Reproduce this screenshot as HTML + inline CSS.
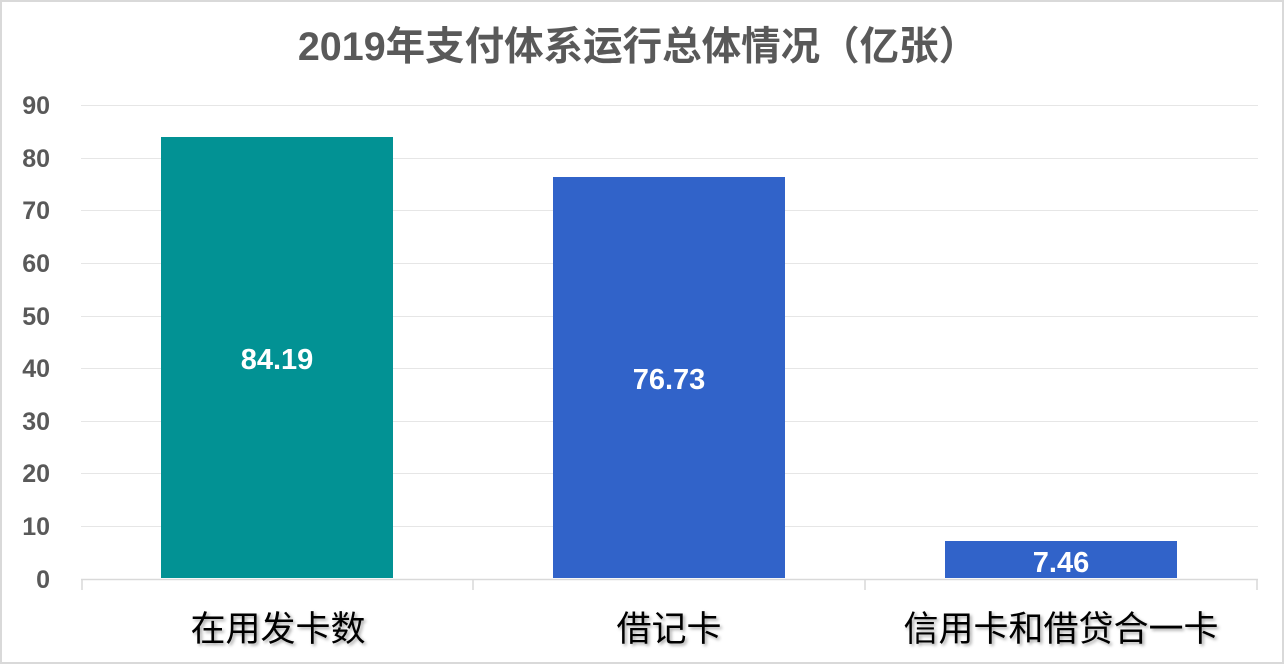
<!DOCTYPE html>
<html><head><meta charset="utf-8"><style>
body{margin:0;width:1284px;height:665px;background:#fff;overflow:hidden}
svg text{font-family:"Liberation Sans","Noto Sans CJK SC",sans-serif}
</style></head><body>
<svg width="1284" height="665" viewBox="0 0 1284 665">
<rect x="1" y="1" width="1282" height="662" fill="#fff" stroke="#d9d9d9" stroke-width="2"/>
<text x="638" y="60" text-anchor="middle" font-size="39.5" font-weight="bold" fill="#595959">2019年支付体系运行总体情况（亿张）</text>
<g stroke="#e6e6e6" stroke-width="1">
<line x1="81" x2="1258" y1="105.5" y2="105.5"/><line x1="81" x2="1258" y1="158.5" y2="158.5"/>
<line x1="81" x2="1258" y1="210.5" y2="210.5"/><line x1="81" x2="1258" y1="263.5" y2="263.5"/>
<line x1="81" x2="1258" y1="316.5" y2="316.5"/><line x1="81" x2="1258" y1="368.5" y2="368.5"/>
<line x1="81" x2="1258" y1="421.5" y2="421.5"/><line x1="81" x2="1258" y1="473.5" y2="473.5"/>
<line x1="81" x2="1258" y1="526.5" y2="526.5"/>
</g>
<g stroke="#d9d9d9" stroke-width="1.5">
<line x1="81" x2="1258" y1="579.5" y2="579.5"/>
<line x1="82" x2="82" y1="579" y2="590"/><line x1="473" x2="473" y1="579" y2="590"/>
<line x1="865" x2="865" y1="579" y2="590"/><line x1="1257" x2="1257" y1="579" y2="590"/>
</g>
<g font-size="25" font-weight="bold" fill="#595959" text-anchor="end">
<text x="50" y="114">90</text><text x="50" y="167">80</text><text x="50" y="219">70</text>
<text x="50" y="272">60</text><text x="50" y="325">50</text><text x="50" y="377">40</text>
<text x="50" y="430">30</text><text x="50" y="482">20</text><text x="50" y="535">10</text>
<text x="50" y="588">0</text>
</g>
<rect x="161" y="137" width="232" height="441" fill="#029294"/>
<rect x="553" y="177" width="232" height="401" fill="#3163c9"/>
<rect x="945" y="541" width="232" height="37" fill="#3163c9"/>
<g font-size="29" font-weight="bold" fill="#fff" text-anchor="middle">
<text x="277" y="369">84.19</text><text x="669" y="389">76.73</text><text x="1061" y="572">7.46</text>
</g>
<g font-size="35" fill="#000" text-anchor="middle" style="text-shadow:2px 2px 3px rgba(0,0,0,0.35)">
<text x="278" y="641">在用发卡数</text><text x="669" y="641">借记卡</text><text x="1061" y="641">信用卡和借贷合一卡</text>
</g>
</svg>
</body></html>
